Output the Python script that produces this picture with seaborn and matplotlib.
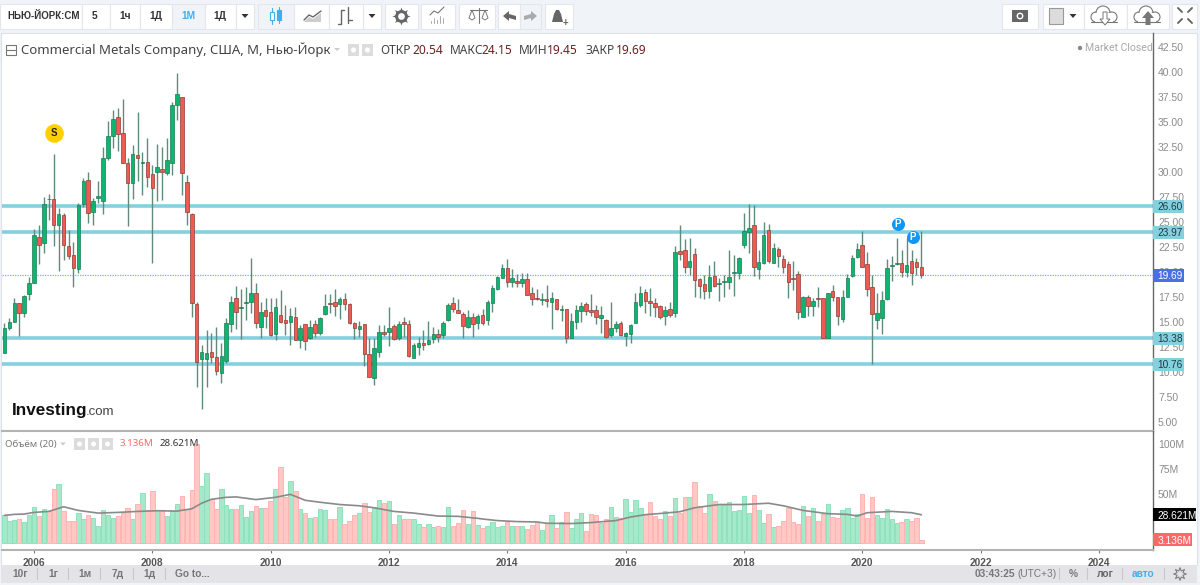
import numpy as np
import pandas as pd
import seaborn as sns
import matplotlib.pyplot as plt
from matplotlib.patches import Rectangle, Circle, Polygon

# monthly candles, Jul 2005 - Jan 2021
opens = [11.87,14.37,15.03,16.87,15.93,17.77,18.87,23.53,22.87,27.3,27.33,24.67,25.7,22.63,21.73,20.3,26.8,29.2,25.97,27.37,
	27.13,31.43,33.6,35.53,33.93,30.93,28.93,31.7,30.87,31.03,29.8,30.03,30.3,29.93,30.93,36.7,37.47,29.03,25.77,16.77,
	11.3,11.3,12.03,11.47,9.87,11.13,14.8,17.43,16.37,16.93,17.03,17.87,14.47,16.2,16.03,13.77,15.7,15.2,15.03,15.47,
	13.2,14.8,13.37,14.8,13.93,15.8,16.9,16.97,16.77,17.27,16.8,14.87,14.27,14.8,11.77,9.37,11.97,14.03,13.97,14.6,
	13.43,14.97,14.8,11.4,12.53,12.9,12.8,13.3,13.8,13.7,15.2,16.87,16.2,15.8,14.53,15.53,14.87,15.7,15.2,16.93,
	18.27,19.37,20.4,19.03,19.13,18.9,19.27,17.87,17.43,17.17,17.33,17.03,17.27,16.2,16.27,13.43,14.97,16.1,16.8,16.2,
	16.2,15.37,15.2,13.7,14.37,14.87,13.63,13.8,14.93,16.67,18.03,17.1,16.87,16.6,15.63,16.27,15.87,22.1,22.2,20.53,
	21.8,19.27,18.77,18.13,19.6,18.77,19.03,19.03,19.87,19.87,22.7,23.97,24.7,20.3,20.87,24.2,20.87,22.3,21.3,20.77,
	19.37,19.77,15.53,17.53,16.6,17.43,17.37,13.37,18.13,17.47,15.3,17.53,19.6,21.47,22.73,20.77,18.47,15.2,15.43,17.3,
	20.57,20.8,20.87,20.03,21.07,20.97,20.54]
highs = [14.87,15.37,17.37,16.87,17.7,19.47,24.27,24.7,27.47,27.8,31.8,26.43,25.87,24.2,23.03,26.87,29.37,30.03,27.37,29.1,
	32.47,35.13,36.2,36.43,37.3,31.37,32.7,35.97,32.03,33.43,30.7,32.8,32.47,33.37,37.03,39.93,37.47,29.7,25.87,17.03,
	12.7,14.2,13.87,14.47,12.87,15.37,17.63,18.6,18.27,18.47,21.37,18.87,17.03,17.43,17.37,17.43,18.2,16.7,16.37,16.53,
	14.7,14.8,15.2,15.2,15.53,17.77,17.77,18.3,17.53,17.87,16.87,15.03,15.13,14.8,13.37,13.37,14.7,14.7,16.53,14.8,
	15.1,15.53,15.2,12.87,13.47,14.2,15.13,14.47,14.27,15.13,16.93,17.53,17.27,16.03,16.2,15.87,15.8,16.27,17.2,18.7,
	19.6,20.77,21.27,20.27,19.8,19.93,19.87,18.47,18.27,17.87,18.7,18.03,17.27,16.7,16.27,15.87,16.7,17.03,17.03,17.8,
	16.7,16.6,15.27,17.03,15.13,15.13,14.03,14.8,17.87,18.6,18.27,18.37,17.37,16.7,16.6,17.03,22.6,24.7,23.27,23.37,
	22.37,19.37,19.7,20.7,21.1,19.37,19.7,22.2,21.7,21.53,25.93,26.8,26.7,22.2,25.03,24.8,22.93,22.53,21.7,21.1,
	21.1,20.13,17.63,17.7,17.37,18.47,17.43,17.93,18.7,17.53,18.2,19.8,21.7,22.87,24.13,22.03,19.7,17.93,18.13,21.27,
	21.6,23.37,22.2,23.37,22.2,21.37,24.15]
lows = [11.87,14.2,15.03,13.6,15.53,17.2,18.87,20.77,21.87,25.2,22.6,20.1,21.2,21.3,18.47,19.93,26.5,24.87,24.7,26.87,
	25.8,31.2,32.37,32.1,30.93,24.63,27.27,29.13,27.7,28.47,20.93,27.13,27.2,29.7,29.7,35.2,27.7,24.7,15.53,8.53,
	6.27,8.53,10.87,9.7,8.87,10.87,14.03,14.27,13.27,15.2,15.87,14.37,13.37,14.37,13.63,13.2,14.93,13.7,12.7,13.2,
	12.37,12.2,13.27,13.47,13.7,15.7,15.87,15.6,15.27,16.2,14.8,13.3,13.47,10.6,9.47,8.7,11.53,13.6,12.6,13.2,
	13.2,13.47,11.53,11.37,11.7,12.2,12.7,12.87,13.03,13.37,15.13,16.03,15.87,13.37,14.37,13.53,14.27,14.7,14.7,16.03,
	18.2,19.37,18.47,18.53,18.47,18.47,17.7,16.7,17.2,16.7,16.53,14.27,16.2,15.13,12.87,13.37,14.27,15.03,15.7,15.6,
	14.8,13.93,13.37,13.53,14.03,13.6,12.6,12.93,14.87,16.47,15.87,15.6,15.53,15.27,14.7,15.47,15.53,21.2,19.93,19.7,
	17.47,17.37,17.27,17.37,18.47,17.13,17.47,18.27,17.6,19.27,22.43,21.93,19.6,19.27,20.8,20.93,20.87,20.53,19.87,17.37,
	18.2,15.27,15.47,15.6,15.6,16.53,13.37,13.37,17.13,14.7,15.03,17.47,19.53,21.37,20.53,17.6,10.8,14.27,13.77,17.2,
	19.13,20.7,19.47,19.53,18.7,19.7,19.45]
closes = [14.37,14.97,16.87,15.93,17.6,18.87,23.7,22.7,26.8,27.27,24.67,25.77,22.7,21.63,20.37,26.7,29.13,25.87,27.13,27.63,
	31.43,33.6,35.27,33.8,30.93,28.93,31.77,31.43,31.0,29.53,28.37,30.53,30.03,31.2,36.7,37.8,29.93,26.03,16.93,11.03,
	11.97,11.93,11.47,10.13,11.6,14.87,17.03,16.03,16.53,17.0,17.93,14.87,16.03,15.63,13.7,16.47,15.03,14.87,15.6,13.2,
	14.37,13.1,14.47,13.87,15.37,16.6,16.77,16.63,17.27,16.77,14.87,14.37,14.57,11.77,9.47,12.37,13.97,13.77,14.37,13.3,
	14.8,14.8,11.63,12.7,12.87,12.73,13.2,13.8,13.53,14.87,16.7,16.3,15.87,14.6,15.47,14.8,15.6,14.87,16.97,18.43,
	19.47,20.43,19.03,19.37,18.87,19.27,17.7,17.3,17.27,17.27,17.1,17.37,16.3,16.27,13.37,15.1,16.2,16.6,16.1,16.0,
	15.47,15.7,13.53,14.37,14.77,13.7,13.93,14.7,17.03,17.93,17.13,16.93,16.53,15.53,16.2,15.7,22.03,21.8,20.47,21.13,
	19.2,18.63,18.1,19.47,18.63,18.93,19.13,19.47,19.97,21.4,24.1,24.37,20.47,21.03,23.7,21.1,22.37,21.63,20.53,19.03,
	19.27,16.03,17.53,16.6,17.1,17.3,13.37,17.87,17.47,15.63,17.47,19.37,21.4,22.3,20.53,18.27,15.77,15.93,17.2,20.37,
	20.73,20.93,19.97,20.7,19.93,20.53,19.69]

vol_m = [28,22,23,24.7,21.3,28,36.7,27,34.7,32,55,59.7,32,22,22,30.7,24,28,25.3,17,
	33,28.7,25.7,27,30.7,35.3,24.7,39.3,50.7,33.7,52.7,33.7,33,27,32,39.7,47.7,34.7,54,100.3,
	58,70.7,44.7,34.7,54.7,39,34,34.7,38.7,26.3,32,37,35.7,35.7,42.3,54.7,77.3,46.3,63,52.7,
	34.7,30.3,25.3,26.3,34.7,33,24.7,24,36,19.7,22,28.7,30.3,41,31,36.3,43.7,40.3,42.7,19.7,
	28.7,24,24.7,24,19.7,16.7,19.7,16.3,17.7,16.3,36.7,17.7,20.7,33,19.7,32,18.7,
	15.7,17.3,21.3,16,17,21.3,17,17.7,17,14,18,21.3,13,20.3,28,15.7,21.3,31.3,15.7,24.7,
	30.3,12,29.7,28.7,20.3,24.7,36,26.3,25.7,44.3,31,43.7,35.3,29.7,42,27,24.7,32,27,45.3,
	30,46.7,47,62.3,37,30.3,50,43,39.7,38,41.7,32,33,47.7,30.3,48.7,33.7,20.3,29.7,16.3,
	17,22,35.3,21.3,19,37.7,27,35.3,22,29,39.7,26.3,25,33.7,35.3,25.3,29.3,50,25.3,47,
	28,25.3,34.3,24,20.3,21.3,24.7,22,25.3,3.136]
vol_dir = list("GGGRGGGRGRRGRRRGGRGGGGGRRRGRGRRGRGGGRRRRGGRRGGGRGGGRGRRGRRGRGRGRGGRRGRRRGRRGGRGRGRRGGRGGRGGRRRGRG"
	"RGGGGRGRGRRRGRGRGRGGGRRRGRGGRGGGGRRRRGRGRRGRRRGRGGGGGGGRGGRGRRRRRGRGRRGRRGGGGRRRGGGGGRGRRR")

# 20 period volume average, read at these candle numbers
ma_candle = [1,3,5,7,10,13,16,20,24,28,32,36,39,41,43,46,48,52,56,59,62,65,69,73,76,80,84,89,93,97,
	98,101,105,109,111,116,120,125,128,131,135,138,141,146,151,156,159,163,168,172,174,176,181,185,187]
ma_vol = [28,29,29.3,31,32,36.7,33,30.3,31,32,32.7,32.3,34.7,40.3,44.3,46.3,46.7,44,46.3,49.3,43.3,41.3,39,37.7,35.7,32,30.3,27.3,27,25,
	24.3,22.7,21.7,21.3,20,19.7,20.7,22.7,26.3,28.7,30.3,31.7,35.7,39,39,40.3,37.7,33,29.7,29,27.3,30.7,32,30.7,28.62]

levels = [26.60, 23.97, 13.38, 10.76]
last_price = 19.69
price_ticks = [5,7.5,10,12.5,15,17.5,20,22.5,25,27.5,30,32.5,35,37.5,40,42.5]
vol_ticks = [50, 75, 100]
vol_tick_labels = ["50M", "75M", "100M"]
year_labels = [2006,2008,2010,2012,2014,2016,2018,2020,2022,2024]

toolbar_left = ["5", "1ч", "1Д", "1М", "1Д"]
ranges = ["10г", "1г", "1м", "7д", "1д", "Go to..."]

GREEN = "#0fb56f"
RED = "#ef5b50"
WICK = "#5f8c78"
LEVEL = "#84d0df"
GREY = "#8b8b8b"
NOTO = ["Noto Sans", "DejaVu Sans"]

sns.set_theme(style="white")
plt.rcParams["font.family"] = ["Liberation Sans", "DejaVu Sans"]

W, H = 1200, 585
AX_W = 1150.5
PX_MONTH = 4.93
X_JAN06 = 34


def rect(top, bottom):
	return [2 / W, 1 - bottom / H, AX_W / W, (bottom - top) / H]


df = pd.DataFrame({"open": opens, "high": highs, "low": lows, "close": closes})
df["month"] = np.arange(len(df)) - 6
df["volume"] = vol_m
df["side"] = vol_dir
ma_df = pd.DataFrame({"month": np.array(ma_candle) - 7, "ma": ma_vol})
year_months = [(y - 2006) * 12 for y in year_labels]
xlim = ((2 - X_JAN06) / PX_MONTH, (1152.5 - X_JAN06) / PX_MONTH)

fig = plt.figure(figsize=(12, 5.85), dpi=100, facecolor="#f0f3f8")

# page furniture in pixel coordinates
ui = fig.add_axes([0, 0, 1, 1], zorder=0)
ui.set_xlim(0, W)
ui.set_ylim(H, 0)
ui.axis("off")
ui.add_patch(Rectangle((1, 33), 1196, 532, fc="white", ec="#dde1e8", lw=0.8))
ui.add_patch(Rectangle((1, 565), 1196, 18, fc="#e4e4e8", ec="none"))


def button(x0, x1, active=False):
	ui.add_patch(Rectangle((x0, 4), x1 - x0, 25, fc="#f0f3f8" if active else "white", ec="#e3e6ec", lw=0.8))


def cloud(cx, up):
	for dx, dy, r in [(-9, 2, 5), (-2, -2, 7), (7, 2, 5)]:
		ui.add_patch(Circle((cx + dx, 15 + dy), r, fc="white", ec="#777", lw=0.8))
	ui.add_patch(Rectangle((cx - 10, 13), 18, 9, fc="white", ec="none", zorder=3))
	ui.plot([cx - 14, cx + 12], [22, 22], color="#777", lw=0.8, zorder=3)
	if up:
		ui.add_patch(Polygon([(cx - 6, 18), (cx, 11), (cx + 6, 18), (cx + 2.5, 18), (cx + 2.5, 25), (cx - 2.5, 25), (cx - 2.5, 18)], fc="#777", ec="none", zorder=4))
	else:
		ui.add_patch(Polygon([(cx - 5, 19), (cx, 25), (cx + 5, 19), (cx + 2, 19), (cx + 2, 12), (cx - 2, 12), (cx - 2, 19)], fc="white", ec="#777", lw=0.7, zorder=4))


def gear(gx, gy, size, colour):
	ui.scatter([gx], [gy], s=size, color=colour, marker=(8, 1, 0), linewidths=0, zorder=3)
	ui.scatter([gx], [gy], s=size * 0.5, color=colour, linewidths=0, zorder=3)
	ui.scatter([gx], [gy], s=size * 0.14, color="white", linewidths=0, zorder=4)


for x0, x1 in [(0, 82), (82, 110), (110, 140), (140, 172), (172, 205), (205, 236), (236, 254),
	(258, 294), (294, 329), (329, 363), (363, 381), (385, 418), (421, 455), (459, 495),
	(498, 520), (520, 541), (545, 573), (1002, 1038), (1043, 1084), (1084, 1127), (1127, 1169), (1172, 1197)]:
	button(x0, x1, x0 in (172, 258, 520))
ui.text(7, 16, "НЬЮ-ЙОРК:CM", fontsize=7, fontweight="bold", color="#333", va="center")
for label, cx in zip(toolbar_left, [95, 125, 156, 188, 220]):
	ui.text(cx, 16, label, fontsize=7.3, fontweight="bold", color="#41b0e8" if label == "1М" else "#333", ha="center", va="center")
for cx in [245, 372, 1073]:
	ui.add_patch(Polygon([(cx - 3.5, 14), (cx + 3.5, 14), (cx, 18)], fc="#333", ec="none"))
# candle button
ui.plot([272, 272], [8, 24], color="#41b0e8", lw=0.8)
ui.plot([279, 279], [7, 23], color="#41b0e8", lw=0.8)
ui.add_patch(Rectangle((270, 12), 4, 8, fc="white", ec="#41b0e8", lw=0.8, zorder=3))
ui.add_patch(Rectangle((277, 10), 4, 10, fc="#41b0e8", ec="#41b0e8", lw=0.8, zorder=3))
# line button
ui.add_patch(Polygon([(304, 22), (309, 17), (313, 19), (321, 13), (321, 22)], fc="#ccc", ec="none"))
ui.plot([304, 309, 313, 321], [20, 15, 17, 11], color="#666", lw=1)
# bars button
ui.plot([341, 341, 344], [24, 10, 10], color="#666", lw=1)
ui.plot([348, 348], [7, 23], color="#666", lw=1)
ui.plot([341, 338], [24, 24], color="#666", lw=1)
ui.plot([348, 352], [20, 20], color="#666", lw=1)
# settings
gear(401, 16, 170, "#666")
# indicators
ui.bar([431, 434, 437, 440, 443], [-4, -7, -5, -9, -7], bottom=24, width=1.5, color="#777")
ui.plot([430, 434, 438, 444], [15, 11, 13, 7], color="#777", lw=0.8)
# scales
ui.plot([470, 487], [10, 10], color="#777", lw=0.8)
ui.plot([478.5, 478.5], [8, 23], color="#777", lw=0.8)
for cx in [472, 485]:
	ui.add_patch(Polygon([(cx - 3, 18), (cx, 10), (cx + 3, 18), (cx, 20)], fc="white", ec="#777", lw=0.7))
# undo, redo
ui.add_patch(Polygon([(503, 16), (509, 11), (509, 14), (516, 16), (516, 20), (509, 18), (509, 21)], fc="#666", ec="none"))
ui.add_patch(Polygon([(537, 16), (531, 11), (531, 14), (524, 16), (524, 20), (531, 18), (531, 21)], fc="#aaa", ec="none"))
# bell
ui.add_patch(Polygon([(552, 22), (554, 14), (556, 10), (559, 10), (561, 14), (563, 22)], fc="#666", ec="none"))
ui.text(565, 23, "+", fontsize=7, color="#666", ha="center", va="center", fontweight="bold")
# camera
ui.add_patch(Rectangle((1012, 10), 16, 12, fc="#666", ec="none"))
ui.add_patch(Circle((1020, 16), 3.4, fc="white", ec="none", zorder=3))
ui.add_patch(Circle((1020, 16), 2, fc="#666", ec="none", zorder=3))
ui.add_patch(Rectangle((1049, 8), 14, 16, fc="#dcdcdc", ec="#999", lw=0.8))
cloud(1105, False)
cloud(1148, True)
for sx, sy, d in [(1180, 10, 1), (1190, 10, -1), (1180, 21, -1), (1190, 21, 1)]:
	ui.plot([sx - 2, sx + 2], [sy - 2 * d, sy + 2 * d], color="#666", lw=1.4)

# price panel
ax = fig.add_axes(rect(33, 431), zorder=2, facecolor="none")
for lev in levels:
	ax.axhline(lev, color=LEVEL, lw=2.6, zorder=1, solid_capstyle="butt")
ax.axhline(last_price, color="#8aa3f2", lw=0.9, ls=(0, (1, 1)), zorder=1)
ax.vlines(df["month"], df["low"], df["high"], color=WICK, lw=1, zorder=2)
up = df["close"] >= df["open"]
ax.bar(df["month"][up], (df["close"] - df["open"])[up].clip(lower=0.05), bottom=df["open"][up],
	width=0.72, color=GREEN, edgecolor="#1c7a55", linewidth=0.5, zorder=3)
ax.bar(df["month"][~up], (df["open"] - df["close"])[~up].clip(lower=0.05), bottom=df["close"][~up],
	width=0.72, color=RED, edgecolor="#8d3b36", linewidth=0.5, zorder=3)
ax.scatter([4.1], [33.87], s=180, color="#ffd000", zorder=5, linewidths=0)
ax.text(4.1, 33.87, "S", fontsize=7, fontweight="bold", color="#222", ha="center", va="center", zorder=6)
ax.scatter([175.2, 178.2], [24.76, 23.52], s=88, color="#0f97f5", zorder=5, linewidths=0)
for mx, my in [(175.2, 24.76), (178.2, 23.52)]:
	ax.text(mx, my, "P", fontsize=7, fontweight="bold", color="white", ha="center", va="center", zorder=6)

ax.set_xlim(*xlim)
ax.set_ylim(4.1, 43.9)
ax.yaxis.tick_right()
ax.set_yticks(price_ticks)
ax.set_yticklabels(["%.2f" % p for p in price_ticks])
ax.set_xticks([])
ax.tick_params(axis="y", length=2.5, width=0.8, color="#777", labelcolor=GREY, labelsize=7.5, pad=1.5, right=True)
sns.despine(ax=ax, top=True, left=True, bottom=False, right=False)
ax.spines["right"].set_color("#666")
ax.spines["right"].set_linewidth(1)
ax.spines["bottom"].set_color("#b3b3b3")
ax.spines["bottom"].set_linewidth(1.5)


def price_tag(axis, val, text, bg, fg, px_per_unit, width_px=32):
	h = 6.5 / px_per_unit
	axis.add_patch(Rectangle((1.0, val - h), width_px / AX_W, 2 * h, transform=axis.get_yaxis_transform(),
		fc=bg, ec="none", clip_on=False, zorder=7))
	axis.text(1.0 + 5 / AX_W, val, text, transform=axis.get_yaxis_transform(), clip_on=False, color=fg, fontsize=7.3,
		va="center_baseline", ha="left", zorder=8)


for lev in levels:
	price_tag(ax, lev, "%.2f" % lev, LEVEL, "#1f3a44", 10)
price_tag(ax, last_price, "%.2f" % last_price, "#4a6fe3", "white", 10)

# volume panel
vax = fig.add_axes(rect(431, 550), zorder=2, facecolor="none")
for side, fill, edge in [("G", "#a5e9ca", "#8ee2bb"), ("R", "#ffc8c5", "#ffb5b1")]:
	sns.barplot(data=df[df["side"] == side], x="month", y="volume", color=fill, edgecolor=edge, linewidth=0.7,
		saturation=1, native_scale=True, width=0.9, errorbar=None, ax=vax, zorder=2)
sns.lineplot(data=ma_df, x="month", y="ma", color="#8a8a8a", lw=1.2, ax=vax, zorder=3)
vax.set_xlim(*xlim)
vax.set_ylim(-7.1, 113.5)
vax.yaxis.tick_right()
vax.set_yticks(vol_ticks)
vax.set_yticklabels(vol_tick_labels)
vax.set_xticks(year_months)
vax.set_xticklabels(year_labels)
vax.set_xlabel("")
vax.set_ylabel("")
vax.tick_params(axis="y", length=2.5, width=0.8, color="#777", labelcolor=GREY, labelsize=7.5, pad=1.5, right=True)
vax.tick_params(axis="x", length=2.5, width=0.8, color="#777", labelcolor="#555", labelsize=7.3, pad=3, bottom=True)
for lab in vax.get_xticklabels():
	lab.set_fontweight("bold")
sns.despine(ax=vax, top=True, left=True, bottom=False, right=False)
vax.spines["right"].set_color("#666")
vax.spines["right"].set_linewidth(1)
vax.spines["bottom"].set_color("#b3b3b3")
vax.spines["bottom"].set_linewidth(1.5)
price_tag(vax, ma_vol[-1], "28.621M", "black", "white", 0.987, 44)
price_tag(vax, vol_m[-1], "3.136M", "#f9696a", "white", 0.987, 39)

# header and legends on top
top = fig.add_axes([0, 0, 1, 1], zorder=5, facecolor="none")
top.set_xlim(0, W)
top.set_ylim(H, 0)
top.axis("off")
top.add_patch(Rectangle((5.5, 45), 10, 10, fc="none", ec="#777", lw=0.8))
top.plot([6, 15], [50, 50], color="#777", lw=0.8)
top.text(21, 50, "Commercial Metals Company, США, М, Нью-Йорк", family=NOTO, fontsize=9.5, color="#444", va="center")
top.add_patch(Polygon([(334, 48), (340, 48), (337, 51)], fc="#ccc", ec="none"))
for sx in [348, 362]:
	top.add_patch(Rectangle((sx, 44), 11, 12, fc="#dcdcdc", ec="none"))
	top.add_patch(Circle((sx + 5.5, 50), 2.6, fc="white", ec="none"))
for label, lx, value, vx in [("ОТКР", 380, "20.54", 412), ("МАКС", 450, "24.15", 481), ("МИН", 519, "19.45", 547), ("ЗАКР", 585, "19.69", 616)]:
	top.text(lx, 50, label, family=NOTO, fontsize=8.6, color="#444", va="center")
	top.text(vx, 50, value, family=NOTO, fontsize=8.6, color="#6e2020", va="center")
top.add_patch(Circle((1080, 48), 2.2, fc="#888", ec="none"))
top.text(1085, 48, "Market Closed", family=["Roboto", "DejaVu Sans"], fontsize=7.6, color="#a8a8a8", va="center")
top.text(12, 411, "Investing", fontsize=12.3, fontweight="bold", color="#111", va="center")
top.text(86, 412, ".com", fontsize=9.5, color="#444", va="center")
top.text(5, 444, "Объём (20)", family=NOTO, fontsize=7, color="#777", va="center")
top.add_patch(Polygon([(60, 442.5), (66, 442.5), (63, 445.5)], fc="#ccc", ec="none"))
for sx in [74, 88, 102]:
	top.add_patch(Rectangle((sx, 438), 11, 12, fc="#dcdcdc", ec="none"))
	top.add_patch(Circle((sx + 5.5, 444), 2.5, fc="white", ec="none"))
top.text(120, 444, "3.136M", family=NOTO, fontsize=7, color="#f9696a", va="center")
top.text(160, 444, "28.621M", family=NOTO, fontsize=7, color="#333", va="center")

# bottom bar
for label, cx in zip(ranges, [20, 53, 85, 118, 150, 192]):
	top.text(cx, 574, label, fontsize=7.3, fontweight="bold", color="#777", ha="center", va="center")
for sx in [37, 68, 100, 133, 165, 1059, 1087, 1122, 1164]:
	top.plot([sx, sx], [568, 579], color="#c8c8c8", lw=0.8)
top.text(975, 574, "03:43:25", fontsize=7.3, fontweight="bold", color="#777", va="center")
top.text(1017, 574, "(UTC+3)", fontsize=7.3, color="#777", va="center")
top.text(1073, 574, "%", fontsize=7.3, fontweight="bold", color="#777", ha="center", va="center")
top.text(1105, 574, "лог", fontsize=7.3, fontweight="bold", color="#666", ha="center", va="center")
top.text(1143, 574, "авто", fontsize=7.3, fontweight="bold", color="#41b0e8", ha="center", va="center")
top.scatter([1180], [574], s=85, facecolors="none", edgecolors="#777", marker=(8, 1, 0), linewidths=0.7)

fig.savefig("out.png", dpi=100, facecolor=fig.get_facecolor())
